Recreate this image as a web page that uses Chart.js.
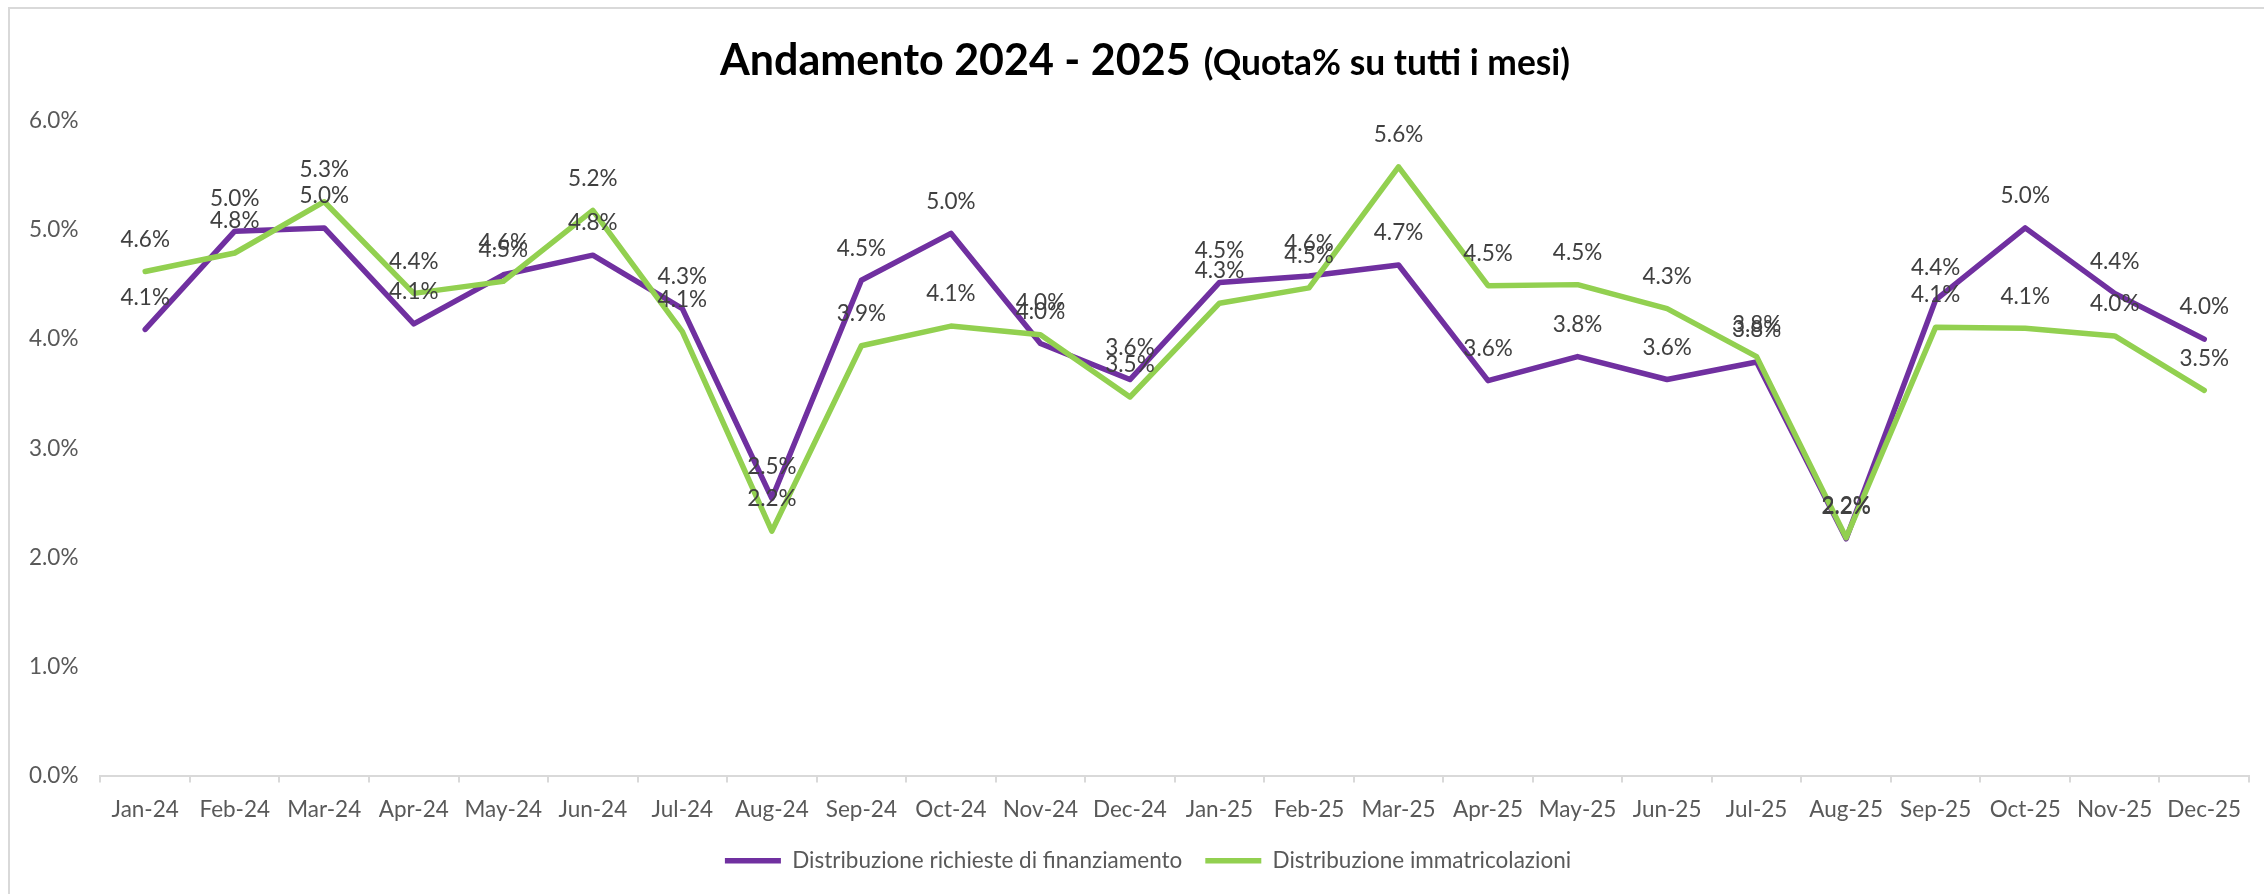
<!DOCTYPE html>
<html>
<head>
<meta charset="utf-8">
<title>Andamento 2024 - 2025</title>
<script src="https://cdn.jsdelivr.net/npm/chart.js@4.4.1/dist/chart.umd.min.js"></script>
<style>
  html, body { margin: 0; padding: 0; background: #fff; }
  #wrap { position: relative; width: 2264px; height: 894px; overflow: hidden; }
  #frame { position: absolute; left: 8px; top: 7px; width: 2300px; height: 950px;
           border: 2px solid #d9d9d9; box-sizing: border-box; pointer-events: none; }
  #title { position: absolute; left: 0; top: 37px; width: 2290px; text-align: center;
           font-family: Lato, sans-serif; font-weight: bold; line-height: 1; color: #000;
           white-space: nowrap; }
  #title .main { font-size: 43px; }
  #title .sub { font-size: 35.4px; margin-left: 13px; }
  canvas { position: absolute; left: 0; top: 0; }
</style>
</head>
<body>
<div id="wrap">
  <canvas id="trendChart" width="2264" height="894"></canvas>
  <div id="frame"></div>
  <div id="title"><span class="main">Andamento 2024 - 2025</span><span class="sub">(Quota% su tutti i mesi)</span></div>
</div>
<script>
const months = ['Jan-24', 'Feb-24', 'Mar-24', 'Apr-24', 'May-24', 'Jun-24', 'Jul-24', 'Aug-24',
    'Sep-24', 'Oct-24', 'Nov-24', 'Dec-24', 'Jan-25', 'Feb-25', 'Mar-25', 'Apr-25',
    'May-25', 'Jun-25', 'Jul-25', 'Aug-25', 'Sep-25', 'Oct-25', 'Nov-25', 'Dec-25'];

// values in %
const richiesteFinanziamento = [4.09, 4.99, 5.02, 4.14, 4.59, 4.77, 4.28, 2.54,
    4.54, 4.97, 3.96, 3.63, 4.52, 4.58, 4.68, 3.62,
    3.84, 3.63, 3.79, 2.17, 4.36, 5.02, 4.42, 4.00];
const immatricolazioni = [4.62, 4.79, 5.26, 4.42, 4.53, 5.18, 4.07, 2.24,
    3.94, 4.12, 4.04, 3.47, 4.33, 4.47, 5.58, 4.49,
    4.50, 4.28, 3.84, 2.18, 4.11, 4.10, 4.03, 3.53];

const yTicks = [0, 1, 2, 3, 4, 5, 6];

const tickFont = { family: 'Lato', size: 22.5 };
const legendFont = { family: 'Lato', size: 22.5 };

// Excel style value labels above every point
const pointLabels = {
    id: 'pointLabels',
    afterDatasetsDraw(chart) {
        const ctx = chart.ctx;
        ctx.save();
        ctx.font = tickFont.size + 'px ' + tickFont.family;
        ctx.fillStyle = '#404040';
        ctx.textAlign = 'center';
        ctx.textBaseline = 'middle';
        chart.data.datasets.forEach(function(ds, i) {
            const meta = chart.getDatasetMeta(i);
            meta.data.forEach(function(pt, j) {
                ctx.fillText(ds.data[j].toFixed(1) + '%', pt.x, pt.y - 32);
            });
        });
        ctx.restore();
    }
};

// the Excel legend sits a bit right of the canvas centre
const legendShift = {
    id: 'legendShift',
    afterLayout(chart) {
        chart.legend.left += 20;
        chart.legend.right += 20;
    }
};

const data = {
    labels: months,
    datasets: [{
        label: 'Distribuzione richieste di finanziamento',
        data: richiesteFinanziamento,
        borderColor: '#7030a0',
        backgroundColor: '#7030a0',
        borderWidth: 5.5,
        borderCapStyle: 'round',
        borderJoinStyle: 'round',
        pointRadius: 0,
        tension: 0,
        order: 1
    }, {
        label: 'Distribuzione immatricolazioni',
        data: immatricolazioni,
        borderColor: '#92d050',
        backgroundColor: '#92d050',
        borderWidth: 5.5,
        borderCapStyle: 'round',
        borderJoinStyle: 'round',
        pointRadius: 0,
        tension: 0,
        order: 0
    }]
};

const config = {
    type: 'line',
    data: data,
    plugins: [pointLabels, legendShift],
    options: {
        responsive: false,
        animation: false,
        devicePixelRatio: 1,
        layout: {
            padding: { top: 121, left: 7, right: 15, bottom: 12 }
        },
        plugins: {
            legend: {
                position: 'bottom',
                labels: {
                    usePointStyle: true,
                    pointStyle: 'line',
                    pointStyleWidth: 56,
                    padding: 23,
                    color: '#595959',
                    font: legendFont,
                    sort: function(a, b) { return a.datasetIndex - b.datasetIndex; }
                }
            },
            tooltip: { enabled: false }
        },
        scales: {
            x: {
                offset: true,
                grid: {
                    display: true,
                    offset: true,
                    drawOnChartArea: false,
                    drawTicks: true,
                    tickLength: 7,
                    color: '#d9d9d9',
                    lineWidth: 2
                },
                border: { display: true, color: '#d9d9d9', width: 2 },
                ticks: {
                    color: '#595959',
                    font: tickFont,
                    padding: 14,
                    maxRotation: 0,
                    autoSkip: false
                },
                afterFit: function(scale) { scale.height = 51; }
            },
            y: {
                min: 0,
                max: 6,
                grid: { display: false, drawTicks: false },
                border: { display: false },
                ticks: {
                    stepSize: 1,
                    color: '#595959',
                    font: tickFont,
                    padding: 22,
                    callback: function(value) {
                        return yTicks.includes(value) ? value.toFixed(1) + '%' : '';
                    }
                }
            }
        }
    }
};

const trendChart = new Chart(
    document.getElementById('trendChart'),
    config
);
</script>
</body>
</html>
